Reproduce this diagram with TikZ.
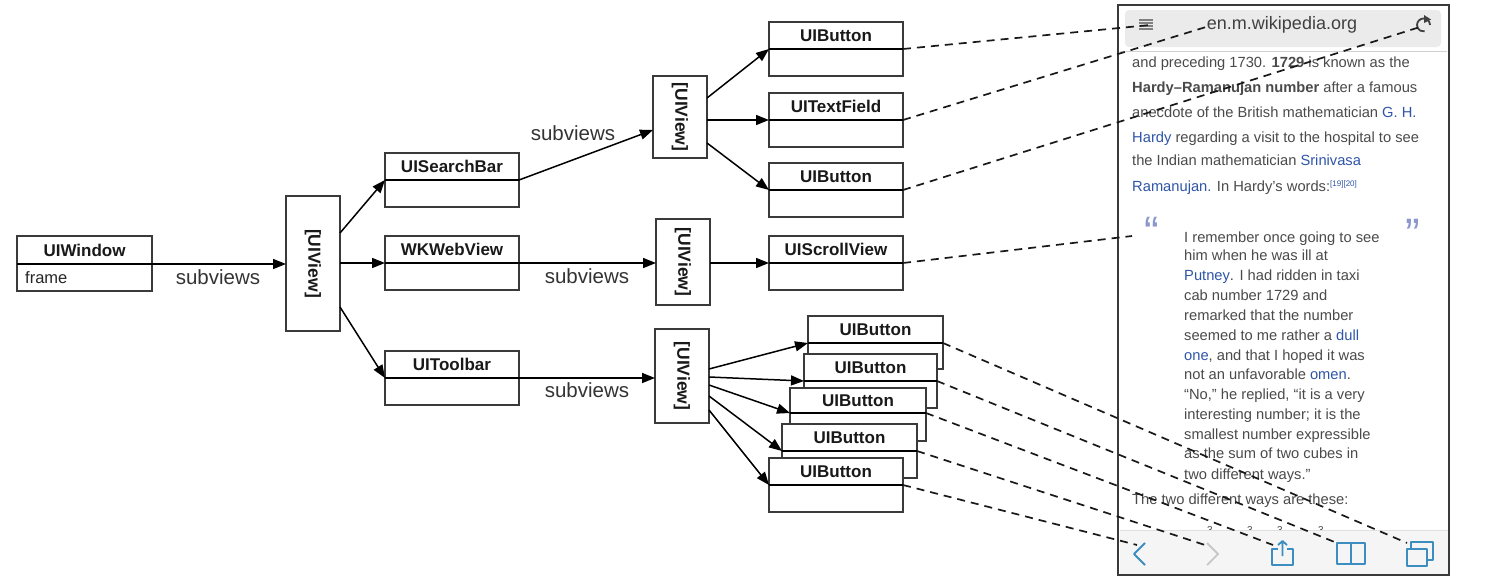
\documentclass[tikz,border=0pt]{standalone}
\usepackage{fontspec}
\setmainfont{Liberation Sans}
\usetikzlibrary{arrows.meta,fit,calc}
\definecolor{edgeC}{HTML}{3A3A3A}
\definecolor{linkC}{HTML}{2F55A8}
\definecolor{bodyC}{HTML}{4A4A4A}
\definecolor{iconC}{HTML}{3C8DC0}
\definecolor{quoteC}{HTML}{8C97CC}
\tikzset{
  framebox/.style={draw=edgeC,line width=1.5pt,fill=white,inner sep=0pt,outer sep=0pt},
  dividerline/.style={draw=black,line width=1.6pt},
  titletext/.style={font=\bfseries\fontsize{17}{19}\selectfont,inner sep=0pt,text=black!90},
  plaintext/.style={font=\fontsize{16.5}{18}\selectfont,inner sep=0pt,text=black!85},
  viewtext/.style={font=\bfseries\fontsize{17.5}{19}\selectfont,inner sep=0pt,rotate=-90,text=black!90},
  subtext/.style={font=\fontsize{20.5}{22}\selectfont,inner sep=0pt,text=black!80},
  arrowline/.style={draw=black,line width=1.5pt,-{Triangle[length=13pt,width=10pt]}},
  dashline/.style={draw=black!90,line width=1.7pt,dash pattern=on 8pt off 6pt},
  phonetext/.style={font=\fontsize{14.7}{16}\selectfont,inner sep=0pt,anchor=base west,text=bodyC},
  iconline/.style={draw=iconC,line width=1.8pt,line join=round},
}
\newcommand\classbox[7]{% name x1 y1 x2 ymid y2 title
  \coordinate (#1-nw) at (#2,#3);
  \coordinate (#1-se) at (#4,#6);
  \coordinate (#1-l) at (#2,#5);
  \coordinate (#1-r) at (#4,#5);
  \node[framebox,fit=(#1-nw)(#1-se)] (#1) {};
  \draw[dividerline] (#1-l) -- (#1-r);
  \node[titletext] (#1-t) at ($(#1-nw)!0.5!(#1-r)$) {#7};
}
\newcommand\viewbox[5]{% name x1 y1 x2 y2
  \coordinate (#1-nw) at (#2,#3);
  \coordinate (#1-se) at (#4,#5);
  \node[framebox,fit=(#1-nw)(#1-se)] (#1) {};
  \node[viewtext] (#1-t) at (#1) {[UIView]};
}
\newcommand\lk[1]{\textcolor{linkC}{#1}}
\begin{document}
\begin{tikzpicture}[x=1pt,y=-1pt]
\useasboundingbox (0,0) rectangle (1486,584);

% phone
\node[inner sep=0pt,outer sep=0pt,fit={(1118,5)(1449,575)},fill=white] (phone) {};
\fill[black!8,rounded corners=4pt] (1125,10) rectangle (1441,47);
\draw[black!18,line width=1pt] (1120,51) -- (1447,51);

\node[phonetext] (p1) at (1132,67) {and preceding 1730. \textbf{1729} is known as the};
\node[phonetext] (p2) at (1132,92) {\textbf{Hardy–Ramanujan number} after a famous};
\node[phonetext] (p3) at (1132,117) {anecdote of the British mathematician \lk{G. H.}};
\node[phonetext] (p4) at (1132,142) {\lk{Hardy} regarding a visit to the hospital to see};
\node[phonetext] (p5) at (1132,165.5) {the Indian mathematician \lk{Srinivasa}};
\node[phonetext] (p6) at (1132,191) {\lk{Ramanujan.} In Hardy's words:\raisebox{5pt}{\fontsize{8}{9}\selectfont\lk{[19][20]}}};
\node[font=\fontsize{44}{44}\selectfont,text=quoteC,inner sep=0pt] (q1) at (1152,232) {“};
\node[font=\fontsize{44}{44}\selectfont,text=quoteC,inner sep=0pt] (q2) at (1413,234) {”};
\node[phonetext] (b1) at (1184,242) {I remember once going to see};
\node[phonetext] (b2) at (1184,260) {him when he was ill at};
\node[phonetext] (b3) at (1184,280) {\lk{Putney}. I had ridden in taxi};
\node[phonetext] (b4) at (1184,300) {cab number 1729 and};
\node[phonetext] (b5) at (1184,320) {remarked that the number};
\node[phonetext] (b6) at (1184,340) {seemed to me rather a \lk{dull}};
\node[phonetext] (b7) at (1184,360) {\lk{one}, and that I hoped it was};
\node[phonetext] (b8) at (1184,379) {not an unfavorable \lk{omen}.};
\node[phonetext] (b9) at (1184,399) {“No,” he replied, “it is a very};
\node[phonetext] (b10) at (1184,419.5) {interesting number; it is the};
\node[phonetext] (b11) at (1184,439) {smallest number expressible};
\node[phonetext] (b12) at (1184,458) {as the sum of two cubes in};
\node[phonetext] (b13) at (1184,479) {two different ways.”};
\node[phonetext] (p7) at (1132,504) {The two different ways are these:};
\foreach \xx in {1207,1247,1277,1318}
  \node[phonetext,font=\fontsize{10}{10}\selectfont] at (\xx,533) {3};

% toolbar
\fill[black!4] (1120,530) rectangle (1448,574);
\draw[black!12,line width=0.8pt] (1120,530) -- (1448,530);
% phone frame
\draw[edgeC,line width=1.8pt] (1118,5) rectangle (1449,575);

% address bar contents
\node[font=\fontsize{18}{20}\selectfont,inner sep=0pt,text=black!75] (url) at (1282,25) {en.m.wikipedia.org};
\foreach \yy in {20,23,26,29} \draw[black!50,line width=1.3pt] (1139,\yy) -- (1153,\yy);
\draw[black!75,line width=1.8pt] (1430,25) arc (0:-280:6.5);
\fill[black!75] (1424,15) -- (1431,19.5) -- (1424,23) -- cycle;
% toolbar icons
\draw[iconline,line width=2pt] (1145,543) -- (1134,554) -- (1145,565);
\draw[black!22,line width=1.8pt] (1207,543) -- (1218,554) -- (1207,565);
\draw[iconline] (1278,549) -- (1272,549) -- (1272,565) -- (1293,565) -- (1293,549) -- (1287,549);
\draw[iconline] (1282.5,556) -- (1282.5,541) (1278,545) -- (1282.5,541) -- (1287,545);
\draw[iconline] (1337,543) rectangle (1365,564) (1351,543) -- (1351,565);
\draw[iconline] (1407,549) rectangle (1427,566);
\draw[iconline] (1411,549) -- (1411,542) -- (1433,542) -- (1433,560) -- (1427,560);

% classes
\classbox{win}{17}{236}{152}{264}{291}{UIWindow}
\node[plaintext,anchor=west] (winframe) at (25,278) {frame};
\viewbox{v1}{286}{196}{340}{331}
\classbox{search}{385}{153}{519}{180}{207}{UISearchBar}
\classbox{web}{385}{236}{519}{263}{290}{WKWebView}
\classbox{tool}{385}{351}{519}{378}{405}{UIToolbar}
\viewbox{v2}{653}{76}{707}{158}
\viewbox{v3}{656}{219}{710}{305}
\viewbox{v4}{655}{329}{709}{423}
\classbox{bt1}{769}{22}{903}{49}{76}{UIButton}
\classbox{field}{769}{93}{903}{120}{147}{UITextField}
\classbox{bt2}{769}{163}{903}{190}{217}{UIButton}
\classbox{scroll}{769}{236}{903}{263}{290}{UIScrollView}
\classbox{s1}{808}{316}{943}{343}{369}{UIButton}
\classbox{s2}{804}{354}{937}{381}{408}{UIButton}
\classbox{s3}{790}{388}{926}{413}{441}{UIButton}
\classbox{s4}{782}{424}{917}{451}{478}{UIButton}
\classbox{s5}{769}{458}{903}{485}{512}{UIButton}

% connector anchor points
\coordinate (v1a) at (340,233);
\coordinate (v1b) at (340,263);
\coordinate (v1c) at (340,307);
\coordinate (v1in) at (286,264);
\coordinate (v2a) at (707,98);
\coordinate (v2b) at (707,120);
\coordinate (v2c) at (707,143);
\coordinate (v2in) at (653,130);
\coordinate (v3in) at (656,263);
\coordinate (v3out) at (710,263);
\coordinate (v4in) at (655,378);
\coordinate (v4a) at (709,369);
\coordinate (v4b) at (709,377);
\coordinate (v4c) at (709,385);
\coordinate (v4d) at (709,396);
\coordinate (v4e) at (709,410);

\draw[arrowline] (win-r) -- (v1in);
\draw[arrowline] (v1a) -- (search-l);
\draw[arrowline] (v1b) -- (web-l);
\draw[arrowline] (v1c) -- (tool-l);
\draw[arrowline] (search-r) -- (v2in);
\draw[arrowline] (web-r) -- (v3in);
\draw[arrowline] (tool-r) -- (v4in);
\draw[arrowline] (v2a) -- (bt1-l);
\draw[arrowline] (v2b) -- (field-l);
\draw[arrowline] (v2c) -- (bt2-l);
\draw[arrowline] (v3out) -- (scroll-l);
\draw[arrowline] (v4a) -- (s1-l);
\draw[arrowline] (v4b) -- (s2-l);
\draw[arrowline] (v4c) -- (s3-l);
\draw[arrowline] (v4d) -- (s4-l);
\draw[arrowline] (v4e) -- (s5-l);

\node[subtext] (sv1) at (218,277) {subviews};
\node[subtext] (sv2) at (573,133) {subviews};
\node[subtext] (sv3) at (587,276) {subviews};
\node[subtext] (sv4) at (587,390) {subviews};

% dashed links into the phone
\coordinate (e1) at (1150,25);
\coordinate (e2) at (1206,27);
\coordinate (e3) at (1420,27);
\coordinate (e4) at (1132,236);
\coordinate (e5) at (1407,543);
\coordinate (e6) at (1337,543);
\coordinate (e7) at (1273,545);
\coordinate (e8) at (1205,545);
\coordinate (e9) at (1137,545);
\draw[dashline] (bt1-r) -- (e1);
\draw[dashline] (field-r) -- (e2);
\draw[dashline] (bt2-r) -- (e3);
\draw[dashline] (scroll-r) -- (e4);
\draw[dashline] (s1-r) -- (e5);
\draw[dashline] (s2-r) -- (e6);
\draw[dashline] (s3-r) -- (e7);
\draw[dashline] (s4-r) -- (e8);
\draw[dashline] (s5-r) -- (e9);
\end{tikzpicture}
\end{document}
